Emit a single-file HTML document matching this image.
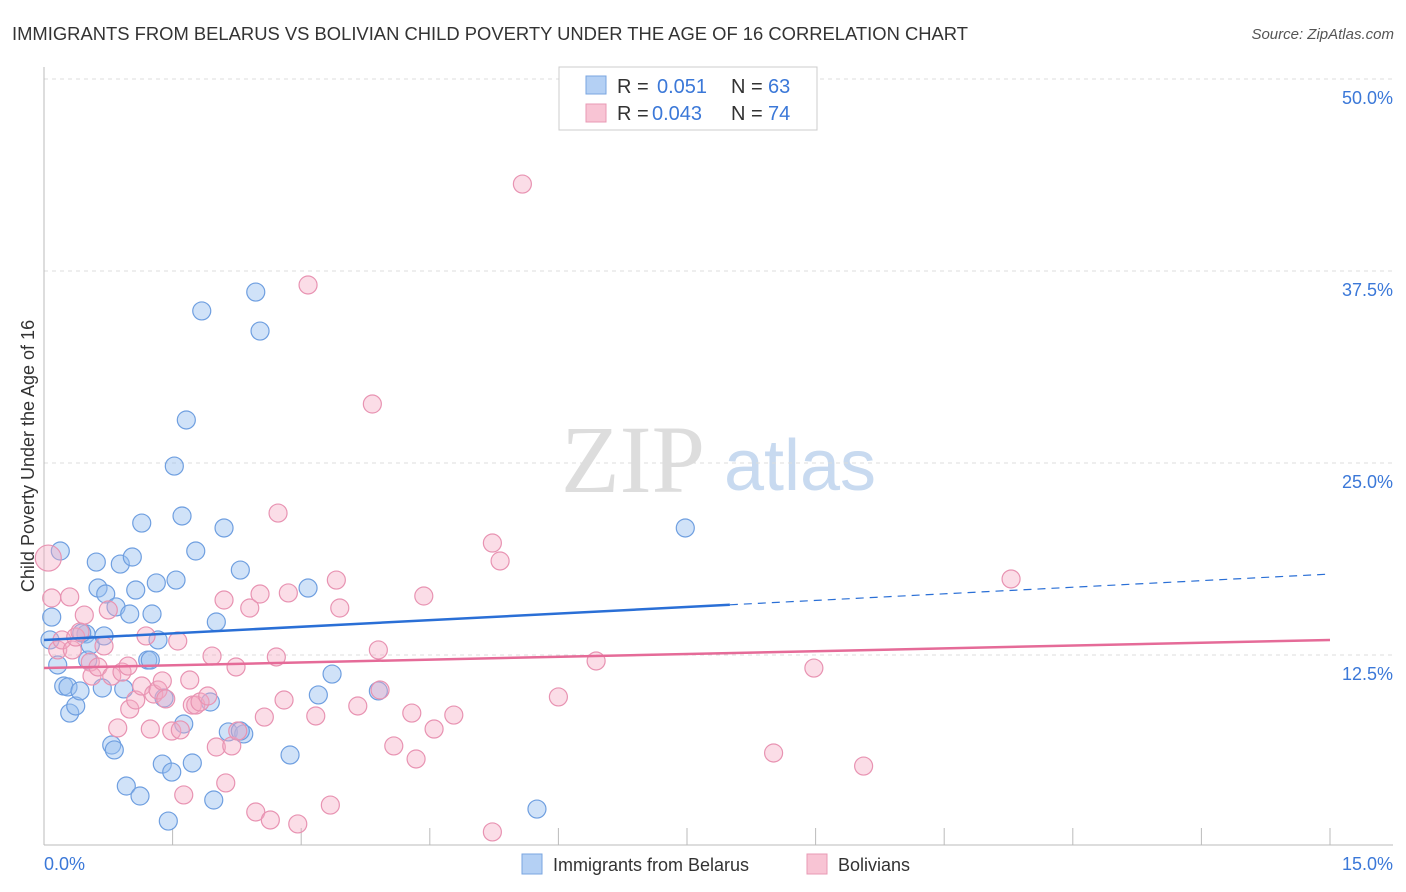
<!DOCTYPE html>
<html><head><meta charset="utf-8">
<style>
body{margin:0;background:#fff;font-family:"Liberation Sans",sans-serif;}
#wrap{position:relative;width:1406px;height:892px;overflow:hidden;}
</style></head>
<body>
<div id="wrap">
<svg id="svg" width="1406" height="892" xmlns="http://www.w3.org/2000/svg" font-family="Liberation Sans, sans-serif">
<text x="12" y="40" font-size="18" fill="#333" textLength="956" lengthAdjust="spacingAndGlyphs">IMMIGRANTS FROM BELARUS VS BOLIVIAN CHILD POVERTY UNDER THE AGE OF 16 CORRELATION CHART</text>
<text x="1394" y="39" font-size="15" fill="#555" font-style="italic" text-anchor="end">Source: ZipAtlas.com</text>
<text x="633" y="492" font-size="96" fill="#ddd" font-family="Liberation Serif, serif" text-anchor="middle">ZIP</text>
<text x="800" y="490" font-size="72" fill="#c8daf0" text-anchor="middle">atlas</text>
<text transform="translate(34,456) rotate(-90)" font-size="18" fill="#333" text-anchor="middle">Child Poverty Under the Age of 16</text>
<g id="grid"></g>
<g id="marks"></g>
<g id="lines"></g>
<rect x="559" y="67" width="258" height="63" fill="#fff" stroke="#ccc"/>
<rect x="586" y="76" width="20" height="18" fill="#b4d0f4" stroke="#7aa6e0"/>
<rect x="586" y="104" width="20" height="18" fill="#f8c4d4" stroke="#e89ab4"/>
<g font-size="20" fill="#333">
<text x="617" y="93">R =</text><text x="657" y="93" fill="#3b78d8">0.051</text><text x="731" y="93">N =</text><text x="768" y="93" fill="#3b78d8">63</text>
</g>
<g font-size="20" fill="#333">
<text x="617" y="120">R =</text><text x="652" y="120" fill="#3b78d8">0.043</text><text x="731" y="120">N =</text><text x="768" y="120" fill="#3b78d8">74</text>
</g>
<rect x="522" y="854" width="20" height="20" fill="#b4d0f4" stroke="#7aa6e0"/>
<text x="553" y="871" font-size="18" fill="#333">Immigrants from Belarus</text>
<rect x="807" y="854" width="20" height="20" fill="#f8c4d4" stroke="#e89ab4"/>
<text x="838" y="871" font-size="18" fill="#333">Bolivians</text>
</svg>
</div>
<script>
const yTicks=[50,37.5,25,12.5];
const yTickLabels=["50.0%","37.5%","25.0%","12.5%"];
const xTicks=[0,1.5,3,4.5,6,7.5,9,10.5,12,13.5,15];
const xEndLabels=["0.0%","15.0%"];
const blueX=[0.09,0.16,0.19,0.23,0.28,0.30,0.37,0.42,0.49,0.51,0.54,0.61,0.63,0.68,0.70,0.72,0.79,0.82,0.84,0.89,0.93,0.96,1.00,1.03,1.07,1.12,1.14,1.21,1.26,1.31,1.33,1.38,1.40,1.45,1.49,1.54,1.61,1.63,1.66,1.73,1.77,1.84,1.94,1.98,2.01,2.10,2.15,2.29,2.33,2.47,2.52,2.87,3.08,3.20,3.36,3.90,5.75,7.48,1.52,0.07,0.44,2.29,1.24];
const blueY=[14.97,11.85,19.27,10.48,10.42,8.72,9.18,10.16,13.87,12.17,13.15,18.55,16.86,10.35,13.74,16.47,6.64,6.32,15.63,18.42,10.29,3.97,15.17,18.88,16.73,3.32,21.09,12.17,15.17,17.19,13.48,5.40,9.70,1.69,4.88,17.38,21.55,8.01,27.80,5.47,19.27,34.90,9.44,3.06,14.65,20.77,7.49,18.03,7.36,36.13,33.59,5.99,16.86,9.90,11.26,10.16,2.47,20.77,24.80,13.48,13.93,7.55,12.17];
const pinkX=[0.05,0.09,0.16,0.21,0.30,0.33,0.37,0.42,0.47,0.54,0.56,0.63,0.70,0.75,0.79,0.86,0.91,0.98,1.00,1.07,1.14,1.19,1.24,1.28,1.33,1.38,1.42,1.49,1.56,1.59,1.63,1.70,1.73,1.77,1.82,1.91,1.96,2.01,2.10,2.12,2.19,2.24,2.26,2.40,2.47,2.52,2.57,2.64,2.71,2.73,2.80,2.85,2.96,3.08,3.17,3.34,3.41,3.45,3.66,3.83,3.90,3.92,4.08,4.29,4.34,4.43,4.55,4.78,5.23,5.32,5.58,6.44,6.00,8.51,8.98,9.56,11.28,5.23];
const pinkY=[18.81,16.21,12.83,13.48,16.28,12.83,13.67,14.00,15.10,12.04,11.13,11.72,13.09,15.43,11.13,7.75,11.39,11.78,8.98,9.57,10.48,13.74,7.68,9.96,10.22,10.81,9.64,7.55,13.41,7.62,3.39,10.87,9.24,9.24,9.44,9.83,12.43,6.51,16.08,4.17,6.58,11.72,7.55,15.56,2.28,16.47,8.46,1.76,12.37,21.74,9.57,16.54,1.50,36.59,8.53,2.73,17.38,15.56,9.18,28.84,12.83,10.22,6.58,8.72,5.73,16.34,7.68,8.59,19.79,18.62,43.16,12.11,9.77,6.12,11.65,5.27,17.45,0.98];
const blueTrend=[13.48,17.77];
const blueSolidEnd=8.0;
const pinkTrend=[11.65,13.48];

const NS="http://www.w3.org/2000/svg";
const sx=v=>44+v/15*1286;
const sy=v=>847-v/12.5*192;
function mk(tag,attrs,parent){const e=document.createElementNS(NS,tag);for(const k in attrs)e.setAttribute(k,attrs[k]);parent.appendChild(e);return e;}
const grid=document.getElementById('grid'),marks=document.getElementById('marks'),lines=document.getElementById('lines');
yTicks.forEach((t,i)=>{
  const l=mk('line',{x1:44,x2:1393,y1:sy(t),y2:sy(t),stroke:'#ddd','stroke-dasharray':'4,4'},grid);
  
  
  const tx=mk('text',{x:1393,y:sy(t)+25,'font-size':18,fill:'#3b78d8','text-anchor':'end'},grid);
  tx.textContent=yTickLabels[i];
  
  
});
const ax=mk('line',{x1:44,x2:44,y1:67,y2:845,stroke:'#bbb'},grid);


const bx=mk('line',{x1:44,x2:1393,y1:845,y2:845,stroke:'#bbb'},grid);


xTicks.forEach(t=>{
  const l=mk('line',{x1:sx(t),x2:sx(t),y1:828,y2:845,stroke:'#bbb'},grid);
  
  
});
const xl0=mk('text',{x:44,y:870,'font-size':18,fill:'#3b78d8'},grid);xl0.textContent=xEndLabels[0];


const xl1=mk('text',{x:1393,y:870,'font-size':18,fill:'#3b78d8','text-anchor':'end'},grid);xl1.textContent=xEndLabels[1];


blueX.forEach((x,i)=>{
  const c=mk('circle',{cx:sx(x),cy:sy(blueY[i]),r:9,fill:'rgba(150,190,240,0.45)',stroke:'#6f9fe0','stroke-width':1.2},marks);
  
  
});
pinkX.forEach((x,i)=>{
  const c=mk('circle',{cx:sx(x),cy:sy(pinkY[i]),r:i===0?13:9,fill:'rgba(244,170,196,0.4)',stroke:'#e893b2','stroke-width':1.2},marks);
  
  
});
const bAt=x=>blueTrend[0]+(blueTrend[1]-blueTrend[0])*x/15;
const b1=mk('line',{x1:sx(0),y1:sy(bAt(0)),x2:sx(blueSolidEnd),y2:sy(bAt(blueSolidEnd)),stroke:'#2a6fd6','stroke-width':2.5},lines);


const b2=mk('line',{x1:sx(blueSolidEnd),y1:sy(bAt(blueSolidEnd)),x2:sx(15),y2:sy(bAt(15)),stroke:'#2a6fd6','stroke-width':1.2,'stroke-dasharray':'8,6'},lines);


const p1=mk('line',{x1:sx(0),y1:sy(pinkTrend[0]),x2:sx(15),y2:sy(pinkTrend[1]),stroke:'#e56b98','stroke-width':2.5},lines);


</script>
</body></html>
